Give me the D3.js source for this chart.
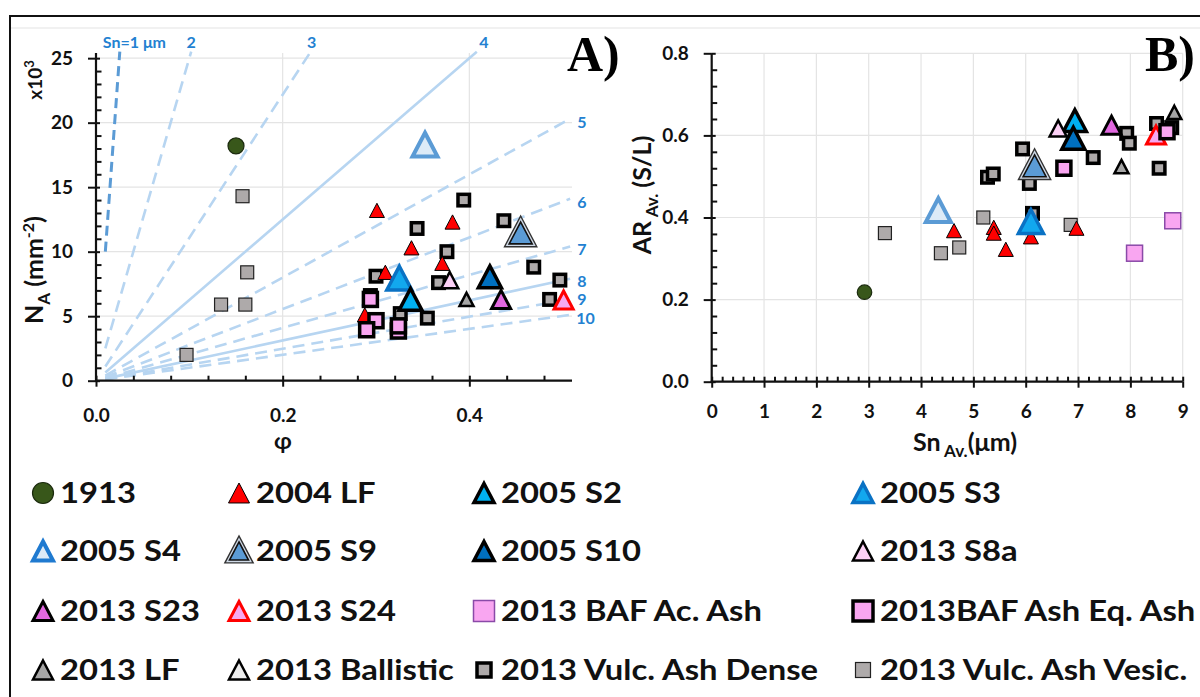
<!DOCTYPE html>
<html>
<head>
<meta charset="utf-8">
<script src="https://cdn.jsdelivr.net/npm/d3@7"></script>
<style>
  html, body { margin: 0; padding: 0; background: #fff; }
  svg { display: block; font-family: Lato, "Open Sans", sans-serif; }
</style>
</head>
<body>
<svg id="fig" width="1200" height="697"></svg>
<script>
// ---------------- data ----------------
// Panel A: volume fraction φ vs number density N_A (x10^3 mm^-2)
const a1913        = [[0.150, 18.2]];
const a2004LF      = [[0.301, 13.2], [0.382, 12.3], [0.338, 10.3], [0.371, 9.1], [0.310, 8.4], [0.288, 5.1]];
const a2005S2      = [[0.337, 6.3]];
const a2005S3      = [[0.325, 7.95]];
const a2005S4      = [[0.3525, 18.3]];
const a2005S9      = [[0.455, 11.45]];
const a2005S10     = [[0.422, 8.05]];
const a2013S8a     = [[0.379, 7.8]];
const a2013S23     = [[0.434, 6.3]];
const a2013S24     = [[0.501, 6.25]];
const aBAFAc       = [];
const aBAFEq       = [[0.294, 6.3], [0.300, 4.65], [0.290, 3.95], [0.324, 3.85], [0.324, 4.25]];
const a2013LF      = [[0.397, 6.3]];
const aBallistic   = [];
const aDense       = [[0.394, 14.0], [0.344, 11.8], [0.437, 12.4], [0.376, 10.0], [0.300, 8.1], [0.367, 7.6],
                      [0.469, 8.8], [0.497, 7.8], [0.486, 6.3], [0.355, 4.85], [0.326, 5.2], [0.294, 6.6]];
const aVesic       = [[0.157, 14.3], [0.162, 8.4], [0.134, 5.9], [0.160, 5.9], [0.097, 2.0]];

// Panel B: mean size Sn (µm) vs mean aspect ratio AR (S/L)
const b1913        = [[2.92, 0.218]];
const b2004LF      = [[4.63, 0.368], [5.39, 0.376], [5.39, 0.362], [5.62, 0.3225], [6.10, 0.353], [6.97, 0.374]];
const b2005S2      = [[6.94, 0.636]];
const b2005S3      = [[6.10, 0.39]];
const b2005S4      = [[4.33, 0.418]];
const b2005S9      = [[6.17, 0.526]];
const b2005S10     = [[6.91, 0.593]];
const b2013S8a     = [[6.62, 0.617]];
const b2013S23     = [[7.64, 0.625]];
const b2013S24     = [[8.49, 0.601]];
const bBAFAc       = [[8.08, 0.313], [8.81, 0.392]];
const bBAFEq       = [[6.73, 0.52], [8.70, 0.609]];
const b2013LF      = [[8.84, 0.656], [7.83, 0.524]];
const bBallistic   = [];
const bDense       = [[5.94, 0.567], [5.27, 0.498], [5.38, 0.506], [6.07, 0.483], [7.29, 0.546], [7.93, 0.605],
                      [7.98, 0.581], [8.50, 0.629], [8.79, 0.619], [8.55, 0.52], [6.13, 0.41]];
const bVesic       = [[3.31, 0.362], [4.38, 0.313], [4.73, 0.327], [5.19, 0.40], [6.86, 0.382]];

// Iso-size reference lines in panel A (Sn in µm): start and end points
const snSizes   = [1, 2, 3, 4, 5, 6, 7, 8, 9, 10];
const snLabels  = ["Sn=1 μm", "2", "3", "4", "5", "6", "7", "8", "9", "10"];
const snStartPhi = [0.01, 0.01, 0.01, 0.01, 0.01, 0.01, 0.01, 0.01, 0.01, 0.01];
const snStartNA  = [10, 2.5, 1.1, 0.63, 0.4, 0.28, 0.2, 0.16, 0.12, 0.1];
const snEndPhi   = [0.0255, 0.102, 0.23, 0.408, 0.508, 0.508, 0.508, 0.508, 0.508, 0.508];
const snEndNA    = [25.5, 25.5, 25.5, 25.5, 20.3, 14.1, 10.4, 7.9, 6.3, 5.1];

// Axis ticks
const aYTicks = [0, 5, 10, 15, 20, 25];
const aXTicks = [0, 0.2, 0.4];
const bYTicks = [0, 0.2, 0.4, 0.6, 0.8];
const bXTicks = [0, 1, 2, 3, 4, 5, 6, 7, 8, 9];

const seriesNames = ["1913", "2004 LF", "2005 S2", "2005 S3", "2005 S4", "2005 S9", "2005 S10", "2013 S8a",
  "2013 S23", "2013 S24", "2013 BAF Ac. Ash", "2013BAF Ash Eq. Ash", "2013 LF", "2013 Ballistic",
  "2013 Vulc. Ash Dense", "2013 Vulc. Ash Vesic."];

// ---------------- marker styles ----------------
const STY = {
  "1913":                  { shape: "circle", fill: "#38571a", stroke: "#1b2a0e", sw: 1.2, size: 16, lsize: 21 },
  "2004 LF":               { shape: "tri", fill: "#ff0000", stroke: "#000", sw: 1, size: 15, lsize: 21 },
  "2005 S2":               { shape: "tri", fill: "#00b0f0", stroke: "#000", sw: 3.5, size: 23, lsize: 20 },
  "2005 S3":               { shape: "tri", fill: "#12a8ee", stroke: "#0a72c4", sw: 3.5, size: 25, lsize: 20 },
  "2005 S4":               { shape: "tri", fill: "#ddebf7", stroke: "#5b9bd5", sw: 4, size: 25, lsize: 20, lstroke: "#1f7ad0" },
  "2005 S9":               { shape: "tri2", fill: "#5b9bd5", stroke: "#111", sw: 1.5, size: 23, lsize: 19 },
  "2005 S10":              { shape: "tri", fill: "#0070c0", stroke: "#000", sw: 3.5, size: 23, lsize: 20 },
  "2013 S8a":              { shape: "tri", fill: "#fcd0f5", stroke: "#000", sw: 2.5, size: 17, lsize: 20 },
  "2013 S23":              { shape: "tri", fill: "#e268e0", stroke: "#000", sw: 3, size: 19, lsize: 20 },
  "2013 S24":              { shape: "tri", fill: "#f6a8f0", stroke: "#ff0000", sw: 3, size: 19, lsize: 20 },
  "2013 BAF Ac. Ash":      { shape: "sq", fill: "#f9a6f1", stroke: "#8a4aa8", sw: 1.5, size: 16, lsize: 21 },
  "2013BAF Ash Eq. Ash":   { shape: "sq", fill: "#f9a6f1", stroke: "#000", sw: 3.5, size: 14, lsize: 20 },
  "2013 LF":               { shape: "tri", fill: "#a5a5a5", stroke: "#000", sw: 2.5, size: 14, lsize: 20 },
  "2013 Ballistic":        { shape: "tri", fill: "#ededed", stroke: "#000", sw: 2.5, size: 14, lsize: 20 },
  "2013 Vulc. Ash Dense":  { shape: "sq", fill: "#aeaaaa", stroke: "#000", sw: 3.5, size: 11.5, lsize: 14 },
  "2013 Vulc. Ash Vesic.": { shape: "sq", fill: "#aeaaaa", stroke: "#222", sw: 1.2, size: 13, lsize: 15 }
};

// drawing order (later on top)
const drawOrder = ["2013 Vulc. Ash Vesic.", "2013 Vulc. Ash Dense", "1913", "2004 LF", "2005 S3", "2005 S2",
  "2005 S4", "2005 S9", "2005 S10", "2013 S8a", "2013 S23", "2013 S24", "2013 LF", "2013 Ballistic",
  "2013 BAF Ac. Ash", "2013BAF Ash Eq. Ash"];

const seriesA = {
  "1913": a1913, "2004 LF": a2004LF, "2005 S2": a2005S2, "2005 S3": a2005S3, "2005 S4": a2005S4,
  "2005 S9": a2005S9, "2005 S10": a2005S10, "2013 S8a": a2013S8a, "2013 S23": a2013S23, "2013 S24": a2013S24,
  "2013 BAF Ac. Ash": aBAFAc, "2013BAF Ash Eq. Ash": aBAFEq, "2013 LF": a2013LF, "2013 Ballistic": aBallistic,
  "2013 Vulc. Ash Dense": aDense, "2013 Vulc. Ash Vesic.": aVesic
};
const seriesB = {
  "1913": b1913, "2004 LF": b2004LF, "2005 S2": b2005S2, "2005 S3": b2005S3, "2005 S4": b2005S4,
  "2005 S9": b2005S9, "2005 S10": b2005S10, "2013 S8a": b2013S8a, "2013 S23": b2013S23, "2013 S24": b2013S24,
  "2013 BAF Ac. Ash": bBAFAc, "2013BAF Ash Eq. Ash": bBAFEq, "2013 LF": b2013LF, "2013 Ballistic": bBallistic,
  "2013 Vulc. Ash Dense": bDense, "2013 Vulc. Ash Vesic.": bVesic
};

// ---------------- setup ----------------
const svg = d3.select("#fig");

// scales
const xA = d3.scaleLinear().domain([0, 0.51]).range([96, 572]);
const yA = d3.scaleLinear().domain([0, 25.4]).range([380.7, 53]);
const xB = d3.scaleLinear().domain([0, 9]).range([711.7, 1182.7]);
const yB = d3.scaleLinear().domain([0, 0.8]).range([381.7, 53.3]);

// outer figure frame
svg.append("path").attr("d", "M10,697V16H1200").attr("fill", "none").attr("stroke", "#111").attr("stroke-width", 2);
svg.append("line").attr("x1", 11).attr("x2", 1200).attr("y1", 28).attr("y2", 28)
  .attr("stroke", "#e3e3e3").attr("stroke-width", 1);

// ---------------- helpers ----------------
function triPath(w) {
  const h = w * 0.95;
  return `M0,${-h / 2}L${w / 2},${h / 2}L${-w / 2},${h / 2}Z`;
}
function drawMarker(g, st, size, legend) {
  const stroke = legend && st.lstroke ? st.lstroke : st.stroke;
  if (st.shape === "circle") {
    g.append("circle").attr("r", size / 2).attr("fill", st.fill).attr("stroke", stroke).attr("stroke-width", st.sw);
  } else if (st.shape === "sq") {
    g.append("rect").attr("x", -size / 2).attr("y", -size / 2).attr("width", size).attr("height", size)
      .attr("fill", st.fill).attr("stroke", stroke).attr("stroke-width", st.sw);
  } else if (st.shape === "tri") {
    g.append("path").attr("d", triPath(size)).attr("fill", st.fill).attr("stroke", stroke)
      .attr("stroke-width", st.sw).attr("stroke-linejoin", "miter");
  } else if (st.shape === "tri2") {
    // double outline: dark outer rim, pale band, dark inner rim
    g.append("path").attr("d", triPath(size)).attr("fill", "#222").attr("stroke", "#333")
      .attr("stroke-width", 7).attr("stroke-linejoin", "miter");
    g.append("path").attr("d", triPath(size)).attr("fill", "#cfd9e6").attr("stroke", "#cfd9e6")
      .attr("stroke-width", 4.2).attr("stroke-linejoin", "miter");
    g.append("path").attr("d", triPath(size)).attr("fill", st.fill).attr("stroke", stroke)
      .attr("stroke-width", 1.6).attr("stroke-linejoin", "miter");
  }
}

function grid(g, x, y, xVals, yVals) {
  const [x0, x1] = x.range();
  const [y0, y1] = y.range();
  g.selectAll(".gx").data(xVals).enter().append("line")
    .attr("x1", d => x(d)).attr("x2", d => x(d)).attr("y1", y0).attr("y2", y1)
    .attr("stroke", "#e4e4e4").attr("stroke-width", 1.2);
  g.selectAll(".gy").data(yVals).enter().append("line")
    .attr("x1", x0).attr("x2", x1).attr("y1", d => y(d)).attr("y2", d => y(d))
    .attr("stroke", "#e4e4e4").attr("stroke-width", 1.2);
}

function axes(x, y, xMajor, xMinor, yMajor, yMinor, xFmt, yFmt, xPad, yPad) {
  const ax = x.range()[0], ay = y.range()[0];
  const g = svg.append("g");
  // y: labels + outer half of major ticks
  g.append("g").attr("transform", `translate(${ax},0)`)
    .call(d3.axisLeft(y).tickValues(yMajor).tickSize(8).tickSizeOuter(0).tickPadding(yPad).tickFormat(yFmt));
  // y: inner half of major ticks and inward minor ticks
  g.append("g").attr("transform", `translate(${ax},0)`)
    .call(d3.axisRight(y).tickValues(yMajor).tickSize(4).tickSizeOuter(0).tickFormat(""));
  g.append("g").attr("transform", `translate(${ax},0)`)
    .call(d3.axisRight(y).tickValues(yMinor).tickSize(5.5).tickSizeOuter(0).tickFormat(""));
  // x axis
  g.append("g").attr("transform", `translate(0,${ay})`)
    .call(d3.axisBottom(x).tickValues(xMajor).tickSize(6).tickSizeOuter(0).tickPadding(xPad).tickFormat(xFmt));
  g.append("g").attr("transform", `translate(0,${ay})`)
    .call(d3.axisTop(x).tickValues(xMajor).tickSize(5).tickSizeOuter(0).tickFormat(""));
  g.append("g").attr("transform", `translate(0,${ay})`)
    .call(d3.axisTop(x).tickValues(xMinor).tickSize(5).tickSizeOuter(0).tickFormat(""));

  g.selectAll("g").attr("font-family", null).attr("font-size", null);
  g.selectAll(".domain").remove();
  g.selectAll(".tick line").attr("stroke", "#111").attr("stroke-width", 2);
  g.selectAll(".tick text").attr("fill", "#111").style("font-size", "19px").style("font-weight", "700");
  // axis lines
  g.append("line").attr("x1", ax).attr("x2", ax).attr("y1", y.range()[0] + 1).attr("y2", y.range()[1])
    .attr("stroke", "#111").attr("stroke-width", 2.2);
  g.append("line").attr("x1", ax - 1).attr("x2", x.range()[1]).attr("y1", ay).attr("y2", ay)
    .attr("stroke", "#111").attr("stroke-width", 2.2);
}

function plotSeries(g, x, y, seriesMap) {
  drawOrder.forEach(name => {
    const st = STY[name];
    const size = (name === "1913" && seriesMap === seriesB) ? 14.5 : st.size;
    seriesMap[name].forEach(d => {
      const m = g.append("g").attr("transform", `translate(${x(d[0])},${y(d[1])})`);
      drawMarker(m, st, size, false);
    });
  });
}

// ---------------- panel A ----------------
const gA = svg.append("g");
grid(gA, xA, yA, [0.2, 0.4], [5, 10, 15, 20, 25]);

// iso-size lines
const snIdx = d3.range(snSizes.length);
gA.selectAll(".sn").data(snIdx).enter().append("line")
  .attr("x1", i => xA(snStartPhi[i])).attr("y1", i => yA(snStartNA[i]))
  .attr("x2", i => xA(snEndPhi[i])).attr("y2", i => yA(snEndNA[i]))
  .attr("stroke", i => i === 0 ? "#5b9bd5" : "#b7d5f1")
  .attr("stroke-width", i => i === 0 ? 3 : 2.6)
  .attr("stroke-dasharray", i => (snSizes[i] === 4 || snSizes[i] === 8) ? null : (i === 0 ? "10,6" : "12,7"));

const snLabDx = [-17, 0, 1, 7, 7, 7, 7, 7, 7, 6];
const snLabDy = [-4, -4, -4, -4, 9, 9, 8, 8, 6, 9];
gA.selectAll(".snl").data(snIdx).enter().append("text")
  .attr("x", i => xA(snEndPhi[i]) + snLabDx[i])
  .attr("y", i => yA(snEndNA[i]) + snLabDy[i])
  .attr("text-anchor", i => i === 0 ? "start" : (i < 4 ? "middle" : "start"))
  .attr("fill", "#2381d1").style("font-size", "16px").style("font-weight", "700")
  .text(i => snLabels[i]);

axes(xA, yA, aXTicks, d3.range(0, 0.52, 0.04).filter(v => Math.abs(v / 0.2 - Math.round(v / 0.2)) > 1e-6),
  aYTicks, d3.range(0, 26, 1).filter(v => v % 5 !== 0), d3.format(".1f"), d3.format("d"), 22, 15);

plotSeries(gA, xA, yA, seriesA);

// panel A titles
svg.append("text").attr("transform", "translate(42,80) rotate(-90)").attr("text-anchor", "middle")
  .style("font-size", "19px").style("font-weight", "700").attr("fill", "#111")
  .html('x10<tspan dy="-8" style="font-size:13px">3</tspan>');
svg.append("text").attr("transform", "translate(43,270) rotate(-90)").attr("text-anchor", "middle")
  .style("font-size", "25px").style("font-weight", "700").attr("fill", "#111")
  .html('N<tspan dy="7" style="font-size:17px">A</tspan><tspan dy="-7"> (mm</tspan><tspan dy="-9" style="font-size:16px">-2</tspan><tspan dy="9">)</tspan>');
svg.append("text").attr("x", 283).attr("y", 449).attr("text-anchor", "middle")
  .style("font-size", "23px").style("font-weight", "700").attr("fill", "#111").text("φ");
svg.append("text").attr("x", 567).attr("y", 71).style("font-family", "'Liberation Serif', 'Times New Roman', serif")
  .style("font-size", "50px").style("font-weight", "700").attr("fill", "#000").text("A)");

// ---------------- panel B ----------------
const gB = svg.append("g");
grid(gB, xB, yB, [1, 2, 3, 4, 5, 6, 7, 8, 9], [0.2, 0.4, 0.6, 0.8]);
axes(xB, yB, bXTicks, d3.range(0, 9.01, 0.2).filter(v => Math.abs(v - Math.round(v)) > 1e-6),
  bYTicks, d3.range(0, 0.801, 0.04).filter(v => Math.abs(v / 0.2 - Math.round(v / 0.2)) > 1e-6),
  d3.format("d"), d3.format(".1f"), 17, 15);
plotSeries(gB, xB, yB, seriesB);

svg.append("text").attr("transform", "translate(651,195) rotate(-90)").attr("text-anchor", "middle")
  .style("font-size", "25px").style("font-weight", "700").attr("fill", "#111")
  .html('AR<tspan dy="7" style="font-size:17px"> Av.</tspan><tspan dy="-7"> (S/L)</tspan>');
svg.append("text").attr("x", 965).attr("y", 451).attr("text-anchor", "middle")
  .style("font-size", "25px").style("font-weight", "700").attr("fill", "#111")
  .html('Sn<tspan dy="6" style="font-size:17px"> Av.</tspan><tspan dy="-6">(μm)</tspan>');
svg.append("text").attr("x", 1145).attr("y", 71).style("font-family", "'Liberation Serif', 'Times New Roman', serif")
  .style("font-size", "50px").style("font-weight", "700").attr("fill", "#000").text("B)");

// ---------------- legend ----------------
const legCols = [43, 239, 484, 863];
const legRows = [493, 551, 611, 670];
const gL = svg.append("g");
seriesNames.forEach((name, i) => {
  const cx = legCols[i % 4], cy = legRows[Math.floor(i / 4)];
  const m = gL.append("g").attr("transform", `translate(${cx},${cy})`);
  drawMarker(m, STY[name], STY[name].lsize, true);
  gL.append("text").attr("transform", `translate(${cx + 17},${cy + 10}) scale(1.13,1)`)
    .style("font-size", "29px").style("font-weight", "700").attr("fill", "#111").text(name);
});
</script>
</body>
</html>
